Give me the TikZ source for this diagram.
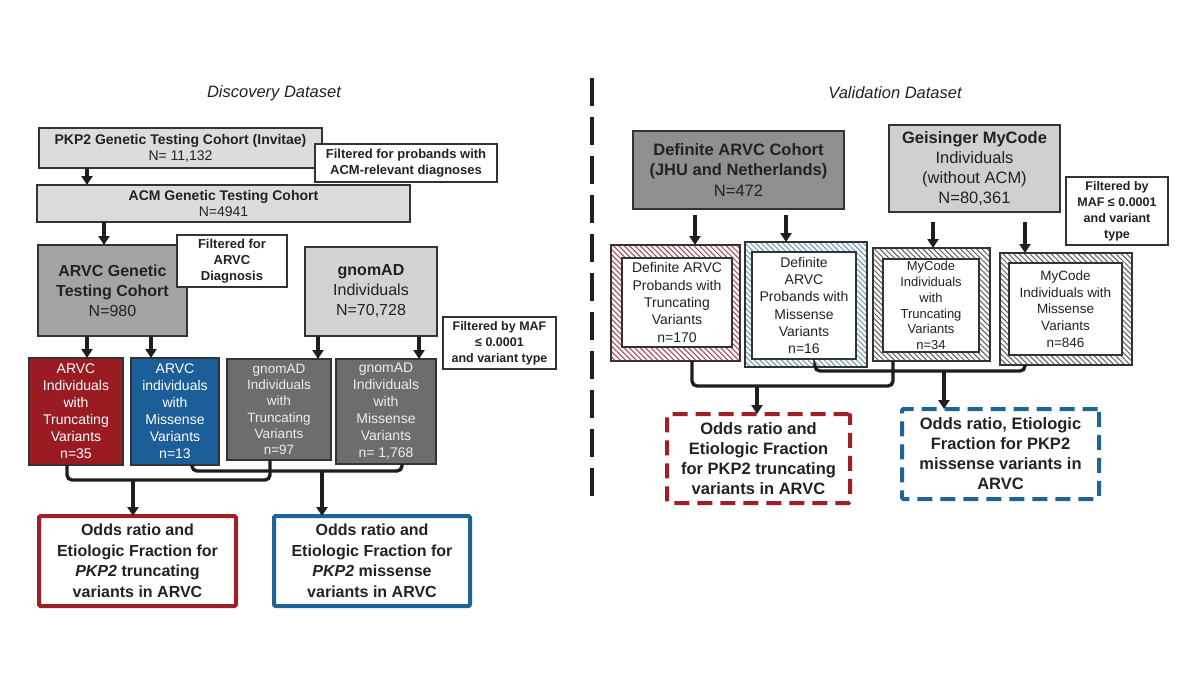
\documentclass[tikz,border=0pt]{standalone}
\usepackage{fontspec}
\setmainfont{Liberation Sans}
\usetikzlibrary{arrows.meta,patterns.meta}
\definecolor{ltgray}{HTML}{DCDCDC}
\definecolor{midgray}{HTML}{A4A4A4}
\definecolor{gnomfill}{HTML}{D3D3D3}
\definecolor{arvcred}{HTML}{9B1B22}
\definecolor{arvcblue}{HTML}{1B5E98}
\definecolor{dkgray}{HTML}{6D6D6D}
\definecolor{defgray}{HTML}{8F8F8F}
\definecolor{geisgray}{HTML}{D0D0D0}
\definecolor{outred}{HTML}{9E1F25}
\definecolor{outblue}{HTML}{1F6397}
\definecolor{bordc}{HTML}{333333}
\definecolor{linec}{HTML}{1E1E1E}
\definecolor{txt}{HTML}{222222}
\definecolor{hred}{HTML}{A84450}
\definecolor{hblue}{HTML}{5A98C0}
\definecolor{hgray}{HTML}{5A5A5A}
\newcommand{\fsz}[2]{\fontsize{#1}{#2}\selectfont}
\begin{document}
\begin{tikzpicture}[x=1pt,y=-1pt,
  box/.style={draw=bordc, line width=1.6pt, inner sep=0pt, outer sep=0pt, align=center, text=txt},
  colbox/.style={box, text=white},
  outbox/.style={box, fill=white, line width=4pt, rounded corners=1.5pt, font=\bfseries\fsz{16}{20.5}},
  dashbox/.style={outbox, dash pattern=on 15pt off 8pt, font=\bfseries\fsz{16.5}{20}},
  filt/.style={box, fill=white},
  hatchbox/.style={box, preaction={fill=white}, pattern={Lines[angle=-45,distance=3.8pt,line width=1pt]}},
  innerbox/.style={box, fill=white},
  arr/.style={line width=3.2pt, draw=linec, -{Triangle[width=11pt,length=9pt]}},
  conn/.style={line width=3.4pt, draw=linec, rounded corners=5pt},
  divider/.style={line width=3.5pt, draw=linec, dash pattern=on 28pt off 11pt},
  ttl/.style={text=txt, font=\itshape\fsz{16.5}{20}}]
\useasboundingbox (0,0) rectangle (1200,675);
\fill[white] (0,0) rectangle (1200,675);

% ---------------- Discovery dataset ----------------
\node[ttl] (t1) at (274,93) {Discovery Dataset};

\node[box, fill=ltgray, minimum width=283pt, minimum height=40pt, font=\fsz{14}{16}] (pkp2) at (180.5,148)
  {\textbf{PKP2 Genetic Testing Cohort (Invitae)}\\N= 11,132};
\node[filt, minimum width=182pt, minimum height=38pt, font=\bfseries\fsz{13}{16}] (f1) at (406,163)
  {Filtered for probands with\\ACM-relevant diagnoses};
\node[box, fill=ltgray, minimum width=373pt, minimum height=37pt, font=\fsz{14}{16}] (acm) at (223.5,203.5)
  {\textbf{ACM Genetic Testing Cohort}\\N=4941};
\node[box, fill=midgray, minimum width=149pt, minimum height=91pt, font=\fsz{16}{20}] (arvc) at (112.5,290.5)
  {\textbf{ARVC Genetic}\\\textbf{Testing Cohort}\\N=980};
\node[filt, minimum width=110pt, minimum height=52pt, font=\bfseries\fsz{13}{16}] (f2) at (232,261)
  {Filtered for\\ARVC\\Diagnosis};
\node[box, fill=gnomfill, minimum width=132pt, minimum height=89pt, font=\fsz{16}{20}] (gnomad) at (371,291.5)
  {\textbf{gnomAD}\\Individuals\\N=70,728};
\node[filt, minimum width=113pt, minimum height=52pt, font=\bfseries\fsz{12.5}{16}] (f3) at (499.5,343)
  {Filtered by MAF\\≤ 0.0001\\and variant type};

\node[colbox, fill=arvcred, minimum width=94pt, minimum height=107pt, font=\fsz{14}{17}] (red) at (76,411.5)
  {ARVC\\Individuals\\with\\Truncating\\Variants\\n=35};
\node[colbox, fill=arvcblue, minimum width=88pt, minimum height=107pt, font=\fsz{14}{17}] (blue) at (175,411.5)
  {ARVC\\individuals\\with\\Missense\\Variants\\n=13};
\node[colbox, fill=dkgray, text=white!93!black, minimum width=104pt, minimum height=101pt, font=\fsz{13.5}{16.3}] (g1) at (279,409.5)
  {gnomAD\\Individuals\\with\\Truncating\\Variants\\n=97};
\node[colbox, fill=dkgray, text=white!93!black, minimum width=100pt, minimum height=105pt, font=\fsz{14}{17}] (g2) at (386,411.5)
  {gnomAD\\Individuals\\with\\Missense\\Variants\\n= 1,768};

\node[outbox, draw=outred, minimum width=197pt, minimum height=90pt] (o1) at (137.5,561)
  {Odds ratio and\\Etiologic Fraction for\\\textit{PKP2} truncating\\variants in ARVC};
\node[outbox, draw=outblue, minimum width=196pt, minimum height=90pt] (o2) at (372,561)
  {Odds ratio and\\Etiologic Fraction for\\\textit{PKP2} missense\\variants in ARVC};

% arrows (left)
\coordinate (xa1) at (87,0);
\coordinate (xa2) at (104,0);
\coordinate (xr1) at (87,0);
\coordinate (xr2) at (151,0);
\coordinate (xg1) at (318,0);
\coordinate (xg2) at (419,0);
\draw[arr] (pkp2.south -| xa1) -- (acm.north -| xa1);
\draw[arr] (acm.south -| xa2) -- (arvc.north -| xa2);
\draw[arr] (arvc.south -| xr1) -- (red.north -| xr1);
\draw[arr] (arvc.south -| xr2) -- (blue.north -| xr2);
\draw[arr] (gnomad.south -| xg1) -- (g1.north -| xg1);
\draw[arr] (gnomad.south -| xg2) -- (g2.north -| xg2);

\coordinate (jA1) at (67,480);
\coordinate (jA2) at (270,480);
\coordinate (aA) at (133,480);
\coordinate (jB1) at (192,471);
\coordinate (jB2) at (402,471);
\coordinate (aB) at (322,471);
\draw[conn] (red.south -| jA1) -- (jA1) -- (jA2) -- (g1.south -| jA2);
\draw[conn] (blue.south -| jB1) -- (jB1) -- (jB2) -- (g2.south -| jB2);
\draw[arr] (aA) -- (o1.north -| aA);
\draw[arr] (aB) -- (o2.north -| aB);

% divider
\coordinate (dv1) at (592,78);
\coordinate (dv2) at (592,505);
\draw[divider] (dv1) -- (dv2);

% ---------------- Validation dataset ----------------
\node[ttl] (t2) at (895,93) {Validation Dataset};

\node[box, fill=defgray, minimum width=211pt, minimum height=78pt, font=\fsz{16.5}{20.5}] (defc) at (738.5,170)
  {\textbf{Definite ARVC Cohort}\\\textbf{(JHU and Netherlands)}\\N=472};
\node[box, fill=geisgray, minimum width=171pt, minimum height=87pt, font=\fsz{16.5}{20}] (geis) at (974.5,168.5)
  {\textbf{Geisinger MyCode}\\Individuals\\(without ACM)\\N=80,361};
\node[filt, minimum width=102pt, minimum height=68pt, font=\bfseries\fsz{12.5}{16}] (f4) at (1117,211)
  {Filtered by\\MAF ≤ 0.0001\\and variant\\type};

\node[hatchbox, pattern color=hred, minimum width=129pt, minimum height=116pt] (h1) at (675.5,303) {};
\node[innerbox, minimum width=110pt, minimum height=89pt, font=\fsz{14}{17.3}] (h1i) at (677,302.5)
  {Definite ARVC\\Probands with\\Truncating\\Variants\\n=170};
\node[hatchbox, pattern color=hblue, minimum width=122pt, minimum height=125pt] (h2) at (806,304.5) {};
\node[innerbox, minimum width=104pt, minimum height=107pt, font=\fsz{14}{17.2}] (h2i) at (804,305.5)
  {Definite\\ARVC\\Probands with\\Missense\\Variants\\n=16};
\node[hatchbox, pattern color=hgray, minimum width=117pt, minimum height=113pt] (h3) at (931.5,304.5) {};
\node[innerbox, minimum width=96pt, minimum height=93pt, font=\fsz{13}{15.8}] (h3i) at (931,305.5)
  {MyCode\\Individuals\\with\\Truncating\\Variants\\n=34};
\node[hatchbox, pattern color=hgray, minimum width=132pt, minimum height=112pt] (h4) at (1066,309) {};
\node[innerbox, minimum width=113pt, minimum height=92pt, font=\fsz{13.5}{16.7}] (h4i) at (1065.5,309)
  {MyCode\\Individuals with\\Missense\\Variants\\n=846};

\node[dashbox, draw=outred, minimum width=183pt, minimum height=89pt] (r1) at (758.5,458.5)
  {Odds ratio and\\Etiologic Fraction\\for PKP2 truncating\\variants in ARVC};
\node[dashbox, draw=outblue, minimum width=197pt, minimum height=90pt] (r2) at (1000.5,454)
  {Odds ratio, Etiologic\\Fraction for PKP2\\missense variants in\\ARVC};

% arrows (right)
\coordinate (xd1) at (695,0);
\coordinate (xd2) at (786,0);
\coordinate (xs1) at (933,0);
\coordinate (xs2) at (1025,0);
\draw[arr] (defc.south -| xd1) ++(0,6) -- (h1.north -| xd1);
\draw[arr] (defc.south -| xd2) ++(0,6) -- (h2.north -| xd2);
\draw[arr] (geis.south -| xs1) ++(0,10) -- (h3.north -| xs1);
\draw[arr] (geis.south -| xs2) ++(0,10) -- (h4.north -| xs2);

\coordinate (kA1) at (692,386);
\coordinate (kA2) at (893,386);
\coordinate (bA) at (757,386);
\coordinate (kB1) at (815,371);
\coordinate (kB2) at (1025,371);
\coordinate (bB) at (944,371);
\draw[conn] (h1.south -| kA1) -- (kA1) -- (kA2) -- (h3.south -| kA2);
\draw[conn] (h2.south -| kB1) -- (kB1) -- (kB2) -- (h4.south -| kB2);
\draw[arr] (bA) -- (r1.north -| bA);
\draw[arr] (bB) -- (r2.north -| bB);
\end{tikzpicture}
\end{document}
